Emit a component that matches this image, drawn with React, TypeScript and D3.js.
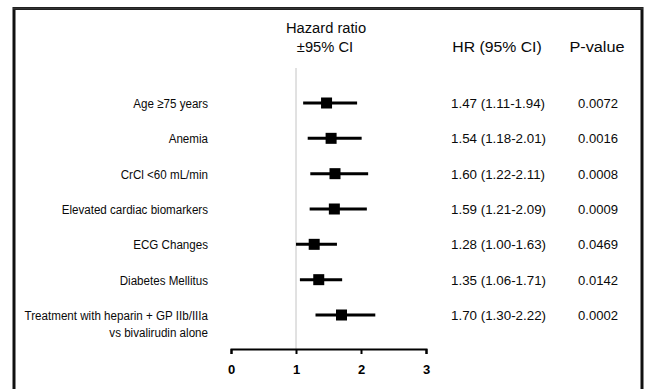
import { useRef, useEffect } from 'react'
import * as d3 from 'd3'

const labels = [
  ['Age \u226575 years'],
  ['Anemia'],
  ['CrCl <60 mL/min'],
  ['Elevated cardiac biomarkers'],
  ['ECG Changes'],
  ['Diabetes Mellitus'],
  ['Treatment with heparin + GP IIb/IIIa', 'vs bivalirudin alone'],
]
const hr = [1.47, 1.54, 1.6, 1.59, 1.28, 1.35, 1.7]
const lower = [1.11, 1.18, 1.22, 1.21, 1.0, 1.06, 1.3]
const upper = [1.94, 2.01, 2.11, 2.09, 1.63, 1.71, 2.22]
const pValues = ['0.0072', '0.0016', '0.0008', '0.0009', '0.0469', '0.0142', '0.0002']
const ticks = [0, 1, 2, 3]

const FONT = '"Liberation Sans", Arial, Helvetica, sans-serif'

type Sel = d3.Selection<SVGGElement, unknown, null, undefined>

// text with a slight horizontal squeeze, the scan looks condensed
function label(g: Sel, x: number, y: number, txt: string, size: number, anchor: string, sx = 1) {
  g.append('g').attr('transform', `translate(${x},${y}) scale(${sx},1)`)
    .append('text')
    .attr('text-anchor', anchor)
    .style('font-size', `${size}px`)
    .attr('fill', '#0a0a0a')
    .text(txt)
}

export default function App() {
  const svgRef = useRef<SVGSVGElement>(null)

  useEffect(() => {
    if (!svgRef.current) return
    const svg = d3.select(svgRef.current)
    svg.selectAll('*').remove()

    const width = 645
    const height = 389

    svg.attr('width', width).attr('height', height).attr('viewBox', `0 0 ${width} ${height}`)
      .style('font-family', FONT)

    svg.append('rect').attr('width', width).attr('height', height).attr('fill', '#fff')

    // frame (bottom edge is cut off)
    svg.append('path')
      .attr('d', 'M14,400 V8.5 H642 V400')
      .attr('fill', 'none').attr('stroke', '#111').attr('stroke-width', 3)
    svg.append('line').attr('x1', 13).attr('x2', 643).attr('y1', 8.5).attr('y2', 8.5)
      .attr('stroke', '#333').attr('stroke-width', 2)

    const x = d3.scaleLinear().domain([0, 3]).range([231, 426])
    const y = d3.scaleLinear().domain([0, labels.length - 1]).range([103, 315])
    const axisY = 349

    // reference line at HR = 1
    svg.append('line')
      .attr('x1', x(1)).attr('x2', x(1)).attr('y1', 68).attr('y2', axisY)
      .attr('stroke', '#c4c4c4').attr('stroke-width', 1)

    const g = svg.append('g') as unknown as Sel

    // headers
    label(g, 326, 33, 'Hazard ratio', 15.5, 'middle', 0.95)
    label(g, 325, 52, '\u00b195% CI', 15.5, 'middle', 0.95)
    label(g, 497, 52, 'HR (95% CI)', 15.5, 'middle', 1.02)
    label(g, 597, 52, 'P-value', 15.5, 'middle', 1.05)

    // rows
    labels.forEach((lines, i) => {
      const yr = y(i)
      lines.forEach((ln, j) => label(g, 208, yr + 5 + j * 17, ln, 13.5, 'end', 0.86))

      svg.append('line')
        .attr('x1', x(lower[i])).attr('x2', x(upper[i]))
        .attr('y1', yr).attr('y2', yr)
        .attr('stroke', '#000').attr('stroke-width', 3)
      svg.append('rect')
        .attr('x', x(hr[i]) - 5.5).attr('y', yr - 5.5).attr('width', 11).attr('height', 11)
        .attr('fill', '#000')

      label(g, 451, yr + 5, `${hr[i].toFixed(2)} (${lower[i].toFixed(2)}-${upper[i].toFixed(2)})`, 13.5, 'start', 0.99)
      label(g, 598, yr + 5, pValues[i], 13.5, 'middle', 0.97)
    })

    // axis
    const axis = svg.append('g')
      .attr('transform', `translate(0,${axisY})`)
      .call(d3.axisBottom(x).tickValues(ticks).tickFormat(d3.format('d')).tickSizeInner(5).tickSizeOuter(5))
    axis.select('.domain').attr('stroke', '#000').attr('stroke-width', 2)
    axis.selectAll('.tick line').attr('stroke', '#000').attr('stroke-width', 2)
    axis.selectAll('.tick text')
      .attr('y', 16).style('font-size', '13px').style('font-weight', 'bold')
      .style('font-family', FONT).attr('fill', '#000')
  }, [])

  return <svg ref={svgRef} style={{ position: 'absolute', left: 0, top: 0 }} />
}
